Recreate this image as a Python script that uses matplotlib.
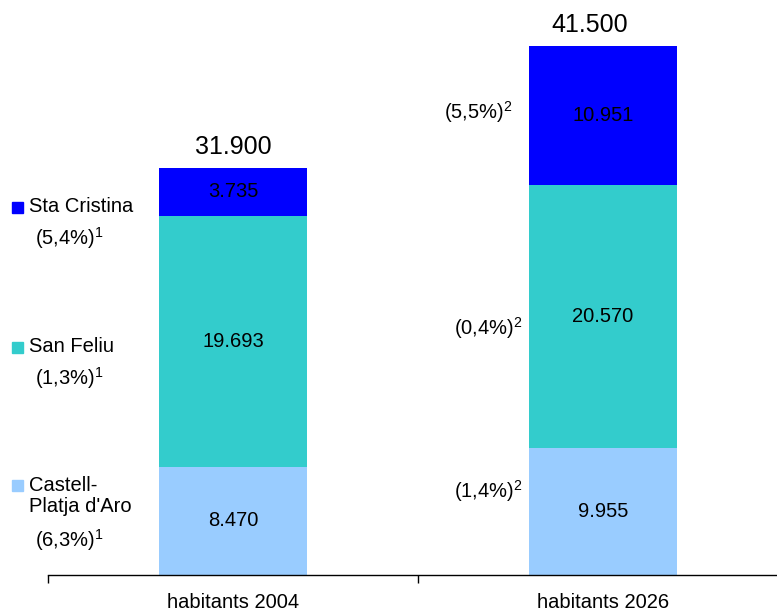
import matplotlib
matplotlib.use("Agg")
import matplotlib.pyplot as plt
import matplotlib.transforms as mtransforms
import numpy as np

plt.rcParams["font.family"] = ["Liberation Sans", "DejaVu Sans"]
plt.rcParams["mathtext.fontset"] = "custom"
plt.rcParams["mathtext.rm"] = "Liberation Sans"
plt.rcParams["mathtext.it"] = "Liberation Sans"

categories = ["habitants 2004", "habitants 2026"]
series = ["Castell-\nPlatja d'Aro", "San Feliu", "Sta Cristina"]
values = {
    "Castell-\nPlatja d'Aro": [8470, 9955],
    "San Feliu": [19693, 20570],
    "Sta Cristina": [3735, 10951],
}
labels = {
    "Castell-\nPlatja d'Aro": ["8.470", "9.955"],
    "San Feliu": ["19.693", "20.570"],
    "Sta Cristina": ["3.735", "10.951"],
}
totals = ["31.900", "41.500"]
growth_hist = {"Sta Cristina": "(5,4%)", "San Feliu": "(1,3%)", "Castell-\nPlatja d'Aro": "(6,3%)"}
growth_proj = {"Sta Cristina": "(5,5%)", "San Feliu": "(0,4%)", "Castell-\nPlatja d'Aro": "(1,4%)"}
colors = {"Castell-\nPlatja d'Aro": "#99CCFF", "San Feliu": "#33CCCC", "Sta Cristina": "#0000FF"}
FS = 14.5

W, H = 777, 612
fig = plt.figure(figsize=(7.77, 6.12), dpi=100)
ax = fig.add_axes([48 / W, 1 - 575 / H, 1 - 48 / W, (575 - 5) / H])

x = np.arange(len(categories))
bottom = np.zeros(len(categories))
for s in series:
    v = np.array(values[s])
    ax.bar(x, v, 0.40, bottom=bottom, color=colors[s], edgecolor="none")
    for i in range(len(x)):
        ax.text(x[i], bottom[i] + v[i] / 2, labels[s][i], ha="center", va="center", fontsize=FS)
    bottom += v

for i in range(len(x)):
    ax.text(x[i] - (0.035 if i == 1 else 0), bottom[i] + 700, totals[i], ha="center", va="bottom", fontsize=18)

ax.set_xlim(-0.5, 1.47)
ax.set_ylim(0, 44670)
for sp in ["top", "right", "left"]:
    ax.spines[sp].set_visible(False)
ax.spines["bottom"].set_linewidth(1.0)
ax.set_yticks([])
ax.set_xticks([-0.5, 0.5])
ax.set_xticklabels([])
ax.tick_params(axis="x", length=6, width=1.0, direction="out")
trans = mtransforms.blended_transform_factory(ax.transData, fig.transFigure)
for i, c in enumerate(categories):
    ax.text(x[i], 1 - 603 / H, c, transform=trans, ha="center", va="center", fontsize=FS, clip_on=False)

# projected growth next to 2026 bar
proj_pos = {"Sta Cristina": (513, 112), "San Feliu": (523, 328), "Castell-\nPlatja d'Aro": (523, 491)}
for s in series:
    px, py = proj_pos[s]
    fig.text(px / W, 1 - py / H, growth_proj[s] + "$^{2}$", ha="right", va="center", fontsize=FS)

# left-hand legend with historical growth
leg_pos = {"Sta Cristina": (207, 238), "San Feliu": (347, 378), "Castell-\nPlatja d'Aro": (496, 540)}
for s in series:
    ly, py = leg_pos[s]
    top_line = ly - (11 if "\n" in s else 0)
    fig.patches.append(plt.Rectangle((12 / W, 1 - (top_line + 6) / H), 11 / W, 11 / H,
                                     transform=fig.transFigure, color=colors[s]))
    fig.text(29 / W, 1 - ly / H, s, ha="left", va="center", fontsize=FS, linespacing=1.15)
    fig.text(35 / W, 1 - py / H, growth_hist[s] + "$^{1}$", ha="left", va="center", fontsize=FS)

fig.savefig("out.png", dpi=100)
